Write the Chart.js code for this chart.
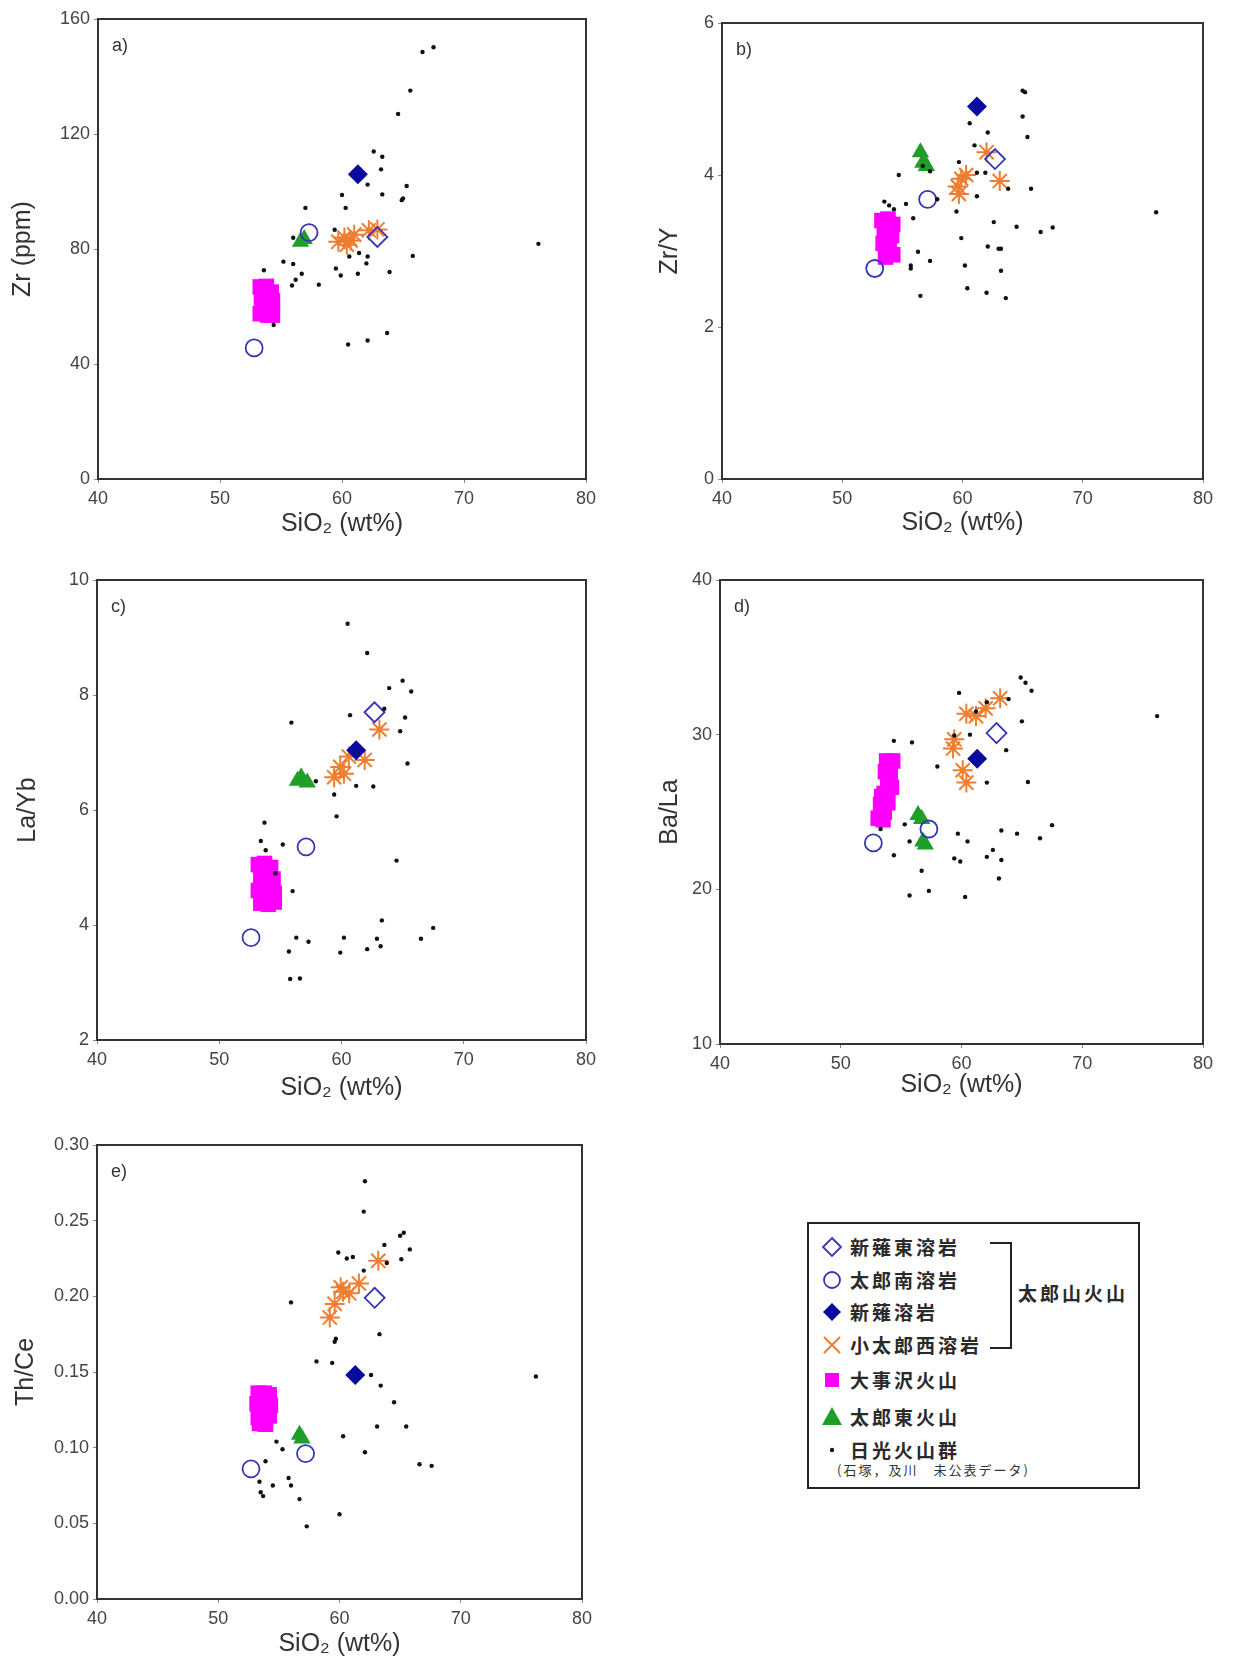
<!DOCTYPE html>
<html>
<head>
<meta charset="utf-8">
<script src="https://cdn.jsdelivr.net/npm/chart.js@4.4.1/dist/chart.umd.min.js"></script>
<style>
body { margin: 0; background: #fff; }
#page { position: relative; width: 1236px; height: 1661px; overflow: hidden; background: #fff; }
#page canvas { position: absolute; }
#legend { position: absolute; left: 807px; top: 1222px; width: 329px; height: 263px; border: 2px solid #222;
  font-family: "Noto Sans CJK JP", sans-serif; color: #2a2a2a; }
#legend .row { position: absolute; left: 11px; height: 24px; line-height: 24px; font-size: 19px; font-weight: bold; letter-spacing: 3px; white-space: nowrap; }
#legend .row svg { position: absolute; left: 0; top: 0; }
#legend .row span { position: absolute; left: 30px; top: 0; }
#legend .note { position: absolute; left: 28px; top: 238px; font-size: 13px; letter-spacing: 2px; line-height: 16px; color: #333; white-space: nowrap; }
#legend .brk { position: absolute; border-color: #222; border-style: solid; border-width: 0; }
#legend .group { position: absolute; left: 209px; top: 56px; font-size: 19px; font-weight: bold; letter-spacing: 3px; line-height: 26px; white-space: nowrap; }
</style>
</head>
<body>
<div id="page">
  <canvas id="pa"></canvas>
  <canvas id="pb"></canvas>
  <canvas id="pc"></canvas>
  <canvas id="pd"></canvas>
  <canvas id="pe"></canvas>
  <div id="legend">
    <div class="row" style="top:11px"><svg width="24" height="24"><polygon points="12,3 21,12 12,21 3,12" fill="none" stroke="#3535b5" stroke-width="1.8"/></svg><span>新薙東溶岩</span></div>
    <div class="row" style="top:44px"><svg width="24" height="24"><circle cx="12" cy="12" r="8" fill="none" stroke="#3535b5" stroke-width="1.8"/></svg><span>太郎南溶岩</span></div>
    <div class="row" style="top:76px"><svg width="24" height="24"><polygon points="12,3 21,12 12,21 3,12" fill="#0a0a9e"/></svg><span>新薙溶岩</span></div>
    <div class="row" style="top:109px"><svg width="24" height="24"><path d="M4,4 L20,20 M20,4 L4,20" stroke="#ee8033" stroke-width="2.2"/></svg><span>小太郎西溶岩</span></div>
    <div class="row" style="top:144px"><svg width="24" height="24"><rect x="5" y="5" width="14" height="14" fill="#ff00ff"/></svg><span>大事沢火山</span></div>
    <div class="row" style="top:181px"><svg width="24" height="24"><polygon points="12,2 22,20 2,20" fill="#1f9e2a"/></svg><span>太郎東火山</span></div>
    <div class="row" style="top:214px"><svg width="24" height="24"><circle cx="12" cy="12" r="2.2" fill="#111"/></svg><span>日光火山群</span></div>
    <div class="note">(石塚，及川　未公表データ)</div>
    <div class="brk" style="left:181px; top:18px; width:20px; height:103px; border-top-width:2px; border-right-width:2px; border-bottom-width:2px;"></div>
    <div class="group">太郎山火山</div>
  </div>
</div>
<script>
// --- data: [SiO2, value] pairs ---
// a) Zr (ppm)
var aNikko = [[66.6,148.5],[67.5,150.2],[65.6,135.1],[64.6,127],[62.6,113.9],[63.3,112.1],[63.2,107.7],[62.1,102.4],[63.3,99],[60.0,98.8],[60.3,94.3],[65.3,101.9],[65.0,97.6],[64.9,97],[57.0,94.3],[65.8,77.6],[76.1,81.8],[60.6,77.4],[61.4,78.6],[62.1,77.4],[62.0,75],[63.9,72],[61.3,71.4],[59.5,73.2],[59.9,70.8],[55.2,75.6],[56.0,74.8],[56.7,71.4],[56.2,69.3],[55.9,67.3],[58.1,67.6],[56.0,83.9],[53.6,72.6],[54.4,53.6],[60.5,46.8],[62.1,48.2],[63.7,50.8],[59.4,86.7]];
var aTaroMinami = [[52.8,45.6],[57.3,85.7]];
var aShinNagiHigashi = [[62.9,84.2]];
var aShinNagi = [[61.3,106]];
var aKotaroNishi = [[59.7,82.5],[60.2,84],[60.7,83],[61.0,85],[62.2,86.5],[62.9,86.8],[60.4,81.5]];
var aOgotozawa = [[53.3,66.8],[53.8,67],[54.2,65],[53.4,63],[54.3,62],[53.5,60],[54.0,59.5],[53.3,57.5],[54.3,57],[53.8,63.5],[53.9,57]];
var aTaroHigashi = [[56.6,82.5],[56.9,83.5]];

// b) Zr/Y
var bNikko = [[65.0,5.11],[65.2,5.09],[65.0,4.77],[65.4,4.50],[60.6,4.68],[62.1,4.56],[61.0,4.39],[59.7,4.17],[61.2,4.03],[61.9,4.03],[54.7,4.0],[63.8,3.82],[65.7,3.82],[61.2,3.72],[57.9,3.68],[53.5,3.65],[53.9,3.6],[54.3,3.55],[55.3,3.62],[59.5,3.52],[55.9,3.43],[76.1,3.51],[62.6,3.38],[64.5,3.32],[66.5,3.25],[67.5,3.31],[59.9,3.17],[62.1,3.06],[63.0,3.03],[63.2,3.03],[56.3,2.99],[57.3,2.87],[55.7,2.81],[55.7,2.77],[60.2,2.81],[63.2,2.74],[60.4,2.51],[62.0,2.45],[63.6,2.38],[56.5,2.41],[56.7,4.12],[57.3,4.05]];
var bTaroMinami = [[52.7,2.77],[57.1,3.68]];
var bShinNagiHigashi = [[62.7,4.21]];
var bShinNagi = [[61.2,4.90]];
var bKotaroNishi = [[59.6,3.85],[59.9,3.95],[60.3,4.0],[59.7,3.75],[62.0,4.3],[63.1,3.92]];
var bOgotozawa = [[53.3,3.4],[53.8,3.42],[54.2,3.35],[53.5,3.25],[54.1,3.2],[53.4,3.1],[53.9,3.05],[54.2,2.95],[53.6,2.92],[53.9,3.3]];
var bTaroHigashi = [[56.5,4.30],[56.7,4.16],[57.0,4.12]];

// c) La/Yb
var cNikko = [[60.5,9.24],[62.1,8.73],[65.0,8.25],[63.9,8.12],[65.7,8.06],[63.5,7.76],[60.7,7.65],[65.2,7.61],[64.8,7.37],[55.9,7.52],[65.4,6.81],[61.2,6.42],[62.6,6.41],[59.4,6.27],[59.6,5.89],[57.9,6.5],[53.7,5.78],[53.4,5.46],[53.8,5.30],[55.2,5.40],[64.5,5.12],[56.0,4.59],[63.3,4.08],[67.5,3.95],[56.3,3.78],[57.3,3.71],[60.2,3.78],[62.9,3.76],[63.2,3.63],[62.1,3.58],[66.5,3.76],[55.7,3.54],[59.9,3.52],[55.8,3.06],[56.6,3.07],[54.6,4.9]];
var cTaroMinami = [[52.6,3.78],[57.1,5.36]];
var cShinNagiHigashi = [[62.7,7.70]];
var cShinNagi = [[61.2,7.04]];
var cKotaroNishi = [[59.9,6.75],[59.4,6.57],[60.6,6.93],[61.9,6.87],[63.1,7.4],[60.2,6.63]];
var cOgotozawa = [[53.2,5.05],[53.7,5.07],[54.2,5.0],[53.4,4.85],[54.4,4.8],[53.2,4.6],[53.9,4.65],[54.5,4.55],[53.4,4.38],[54.0,4.36],[54.5,4.4],[53.8,4.9],[53.6,4.5]];
var cTaroHigashi = [[56.4,6.51],[56.7,6.57],[57.2,6.48]];

// d) Ba/La
var dNikko = [[64.9,33.7],[65.3,33.36],[65.8,32.84],[59.8,32.7],[62.1,32.1],[63.9,32.3],[61.2,31.5],[65.0,30.86],[76.2,31.2],[54.4,29.6],[55.9,29.5],[60.7,30.0],[59.4,29.95],[63.7,29.0],[58.0,27.94],[62.1,26.9],[65.5,26.94],[55.3,24.2],[53.3,23.9],[59.7,23.6],[60.5,23.1],[63.3,23.8],[64.6,23.6],[67.5,24.15],[66.5,23.3],[62.6,22.55],[55.7,23.1],[54.4,22.2],[62.1,22.1],[63.3,21.9],[59.4,22.0],[59.9,21.8],[56.7,21.2],[63.1,20.7],[55.7,19.6],[57.3,19.9],[60.3,19.5]];
var dTaroMinami = [[52.7,23.0],[57.3,23.9]];
var dShinNagiHigashi = [[62.9,30.1]];
var dShinNagi = [[61.3,28.45]];
var dKotaroNishi = [[60.4,31.35],[61.2,31.2],[62.0,31.7],[63.2,32.35],[59.4,29.7],[59.3,29.1],[60.1,27.7],[60.4,26.9]];
var dOgotozawa = [[53.8,28.3],[54.3,28.3],[54.1,27.6],[53.9,26.9],[54.2,26.6],[53.6,26.2],[53.9,25.6],[53.3,25.5],[53.6,25.0],[53.1,24.6],[53.5,24.5],[53.7,27.6],[53.4,26.0]];
var dTaroHigashi = [[56.4,24.8],[56.7,24.55],[56.8,23.1],[57.0,22.9]];

// e) Th/Ce
var eNikko = [[62.1,0.276],[62.0,0.256],[65.3,0.242],[65.0,0.240],[63.7,0.234],[65.8,0.231],[59.9,0.229],[60.6,0.225],[61.1,0.226],[65.1,0.2245],[63.9,0.222],[62.0,0.217],[56.0,0.196],[63.3,0.175],[59.7,0.172],[59.6,0.170],[58.1,0.157],[59.4,0.156],[62.6,0.148],[76.2,0.147],[63.4,0.141],[64.5,0.130],[63.1,0.114],[65.5,0.114],[60.3,0.1075],[62.1,0.097],[54.8,0.104],[55.3,0.099],[66.6,0.089],[67.6,0.088],[53.9,0.091],[53.4,0.0775],[54.5,0.075],[55.8,0.080],[56.0,0.075],[53.5,0.0705],[53.7,0.068],[56.7,0.066],[60.0,0.056],[57.3,0.048]];
var eTaroMinami = [[52.7,0.086],[57.2,0.096]];
var eShinNagiHigashi = [[62.9,0.199]];
var eShinNagi = [[61.3,0.148]];
var eKotaroNishi = [[59.2,0.186],[59.6,0.195],[60.1,0.206],[60.3,0.203],[60.8,0.202],[61.6,0.2085],[63.2,0.2235]];
var eOgotozawa = [[53.3,0.136],[53.8,0.136],[54.2,0.135],[53.2,0.129],[54.3,0.128],[53.7,0.126],[53.3,0.120],[54.2,0.121],[53.4,0.116],[53.9,0.1155],[53.8,0.131]];
var eTaroHigashi = [[56.7,0.1085],[56.9,0.106]];

// tick labels
var xTicks = [40, 50, 60, 70, 80];
var aTicks = [0, 40, 80, 120, 160];
var bTicks = [0, 2, 4, 6];
var cTicks = [2, 4, 6, 8, 10];
var dTicks = [10, 20, 30, 40];
var eTicks = [0, 0.05, 0.10, 0.15, 0.20, 0.25, 0.30];

Chart.defaults.font.family = '"Liberation Sans", Arial, sans-serif';

var PAD_T = 18, PAD_R = 30, X_H = 75;

var framePlugin = {
    id: 'frame',
    afterDraw: function (chart, args, opts) {
        var ctx = chart.ctx, a = chart.chartArea;
        ctx.save();
        ctx.strokeStyle = '#333';
        ctx.lineWidth = 2;
        ctx.strokeRect(a.left, a.top, a.right - a.left, a.bottom - a.top);
        ctx.fillStyle = '#333';
        ctx.font = '18px "Liberation Sans", Arial, sans-serif';
        ctx.textBaseline = 'middle';
        ctx.fillText(opts.letter, a.left + 14, a.top + 27);
        ctx.restore();
    }
};

function pts(arr) {
    return arr.map(function (p) { return {x: p[0], y: p[1]}; });
}

function panel(id, box, s, yTicks, yTitle, letter, yTitleX, xTitleDist, fmt) {
    var padL = Math.min(98, box.l);
    var cv = document.getElementById(id);
    cv.width = padL + (box.r - box.l) + PAD_R;
    cv.height = PAD_T + (box.b - box.t) + X_H;
    cv.style.left = (box.l - padL) + 'px';
    cv.style.top = (box.t - PAD_T) + 'px';
    new Chart(cv.getContext('2d'), {
        type: 'scatter',
        data: {
            datasets: [
                {label: '日光火山群', data: pts(s.nikko), pointStyle: 'circle', pointRadius: 2.2, backgroundColor: '#111', borderWidth: 0},
                {label: '新薙溶岩', data: pts(s.shinNagi), pointStyle: 'rectRot', pointRadius: 10, backgroundColor: '#0a0a9e', borderWidth: 0},
                {label: '新薙東溶岩', data: pts(s.shinNagiHigashi), pointStyle: 'rectRot', pointRadius: 10, backgroundColor: 'rgba(0,0,0,0)', borderColor: '#3535b5', borderWidth: 1.8},
                {label: '太郎南溶岩', data: pts(s.taroMinami), pointStyle: 'circle', pointRadius: 8.5, backgroundColor: 'rgba(0,0,0,0)', borderColor: '#3535b5', borderWidth: 1.8},
                {label: '小太郎西溶岩', data: pts(s.kotaroNishi), pointStyle: 'star', pointRadius: 10, borderColor: '#ee7d30', borderWidth: 2},
                {label: '太郎東火山', data: pts(s.taroHigashi), pointStyle: 'triangle', pointRadius: 10, backgroundColor: '#1f9e2a', borderWidth: 0},
                {label: '大事沢火山', data: pts(s.ogotozawa), pointStyle: 'rect', pointRadius: 11, backgroundColor: '#ff00ff', borderWidth: 0}
            ]
        },
        options: {
            responsive: false,
            animation: false,
            layout: {padding: {left: 0, top: PAD_T, right: PAD_R, bottom: 0}},
            plugins: {
                legend: {display: false},
                tooltip: {enabled: false},
                frame: {letter: letter}
            },
            scales: {
                x: {
                    type: 'linear',
                    min: xTicks[0],
                    max: xTicks[xTicks.length - 1],
                    afterBuildTicks: function (sc) { sc.ticks = xTicks.map(function (v) { return {value: v}; }); },
                    afterFit: function (sc) { sc.height = X_H; },
                    ticks: {font: {size: 18}, color: '#444', padding: 5, maxRotation: 0, autoSkip: false},
                    grid: {drawOnChartArea: false, tickLength: 4, color: '#888'},
                    border: {display: false},
                    title: {display: true, text: 'SiO₂ (wt%)', font: {size: 25}, color: '#333', padding: {top: 0, bottom: 60 - xTitleDist}}
                },
                y: {
                    type: 'linear',
                    min: yTicks[0],
                    max: yTicks[yTicks.length - 1],
                    afterBuildTicks: function (sc) { sc.ticks = yTicks.map(function (v) { return {value: v}; }); },
                    afterFit: function (sc) { sc.width = padL; },
                    ticks: {
                        font: {size: 18}, color: '#444', padding: 4, autoSkip: false,
                        callback: function (v) { return fmt ? v.toFixed(2) : v; }
                    },
                    grid: {drawOnChartArea: false, tickLength: 4, color: '#888'},
                    border: {display: false},
                    title: {display: true, text: yTitle, font: {size: 25}, color: '#333', padding: {top: yTitleX - 15, bottom: 0}}
                }
            }
        },
        plugins: [framePlugin]
    });
}

panel('pa', {l: 98, t: 19, r: 586, b: 479},
    {nikko: aNikko, taroMinami: aTaroMinami, shinNagiHigashi: aShinNagiHigashi, shinNagi: aShinNagi, kotaroNishi: aKotaroNishi, ogotozawa: aOgotozawa, taroHigashi: aTaroHigashi},
    aTicks, 'Zr (ppm)', 'a)', 23, 45.5, false);
panel('pb', {l: 722, t: 23, r: 1203, b: 479},
    {nikko: bNikko, taroMinami: bTaroMinami, shinNagiHigashi: bShinNagiHigashi, shinNagi: bShinNagi, kotaroNishi: bKotaroNishi, ogotozawa: bOgotozawa, taroHigashi: bTaroHigashi},
    bTicks, 'Zr/Y', 'b)', 46, 44.5, false);
panel('pc', {l: 97, t: 580, r: 586, b: 1040},
    {nikko: cNikko, taroMinami: cTaroMinami, shinNagiHigashi: cShinNagiHigashi, shinNagi: cShinNagi, kotaroNishi: cKotaroNishi, ogotozawa: cOgotozawa, taroHigashi: cTaroHigashi},
    cTicks, 'La/Yb', 'c)', 28.6, 47.7, false);
panel('pd', {l: 720, t: 580, r: 1203, b: 1044},
    {nikko: dNikko, taroMinami: dTaroMinami, shinNagiHigashi: dShinNagiHigashi, shinNagi: dShinNagi, kotaroNishi: dKotaroNishi, ogotozawa: dOgotozawa, taroHigashi: dTaroHigashi},
    dTicks, 'Ba/La', 'd)', 48, 41.3, false);
panel('pe', {l: 97, t: 1145, r: 582, b: 1599},
    {nikko: eNikko, taroMinami: eTaroMinami, shinNagiHigashi: eShinNagiHigashi, shinNagi: eShinNagi, kotaroNishi: eKotaroNishi, ogotozawa: eOgotozawa, taroHigashi: eTaroHigashi},
    eTicks, 'Th/Ce', 'e)', 26.5, 45.5, true);
</script>
</body>
</html>
